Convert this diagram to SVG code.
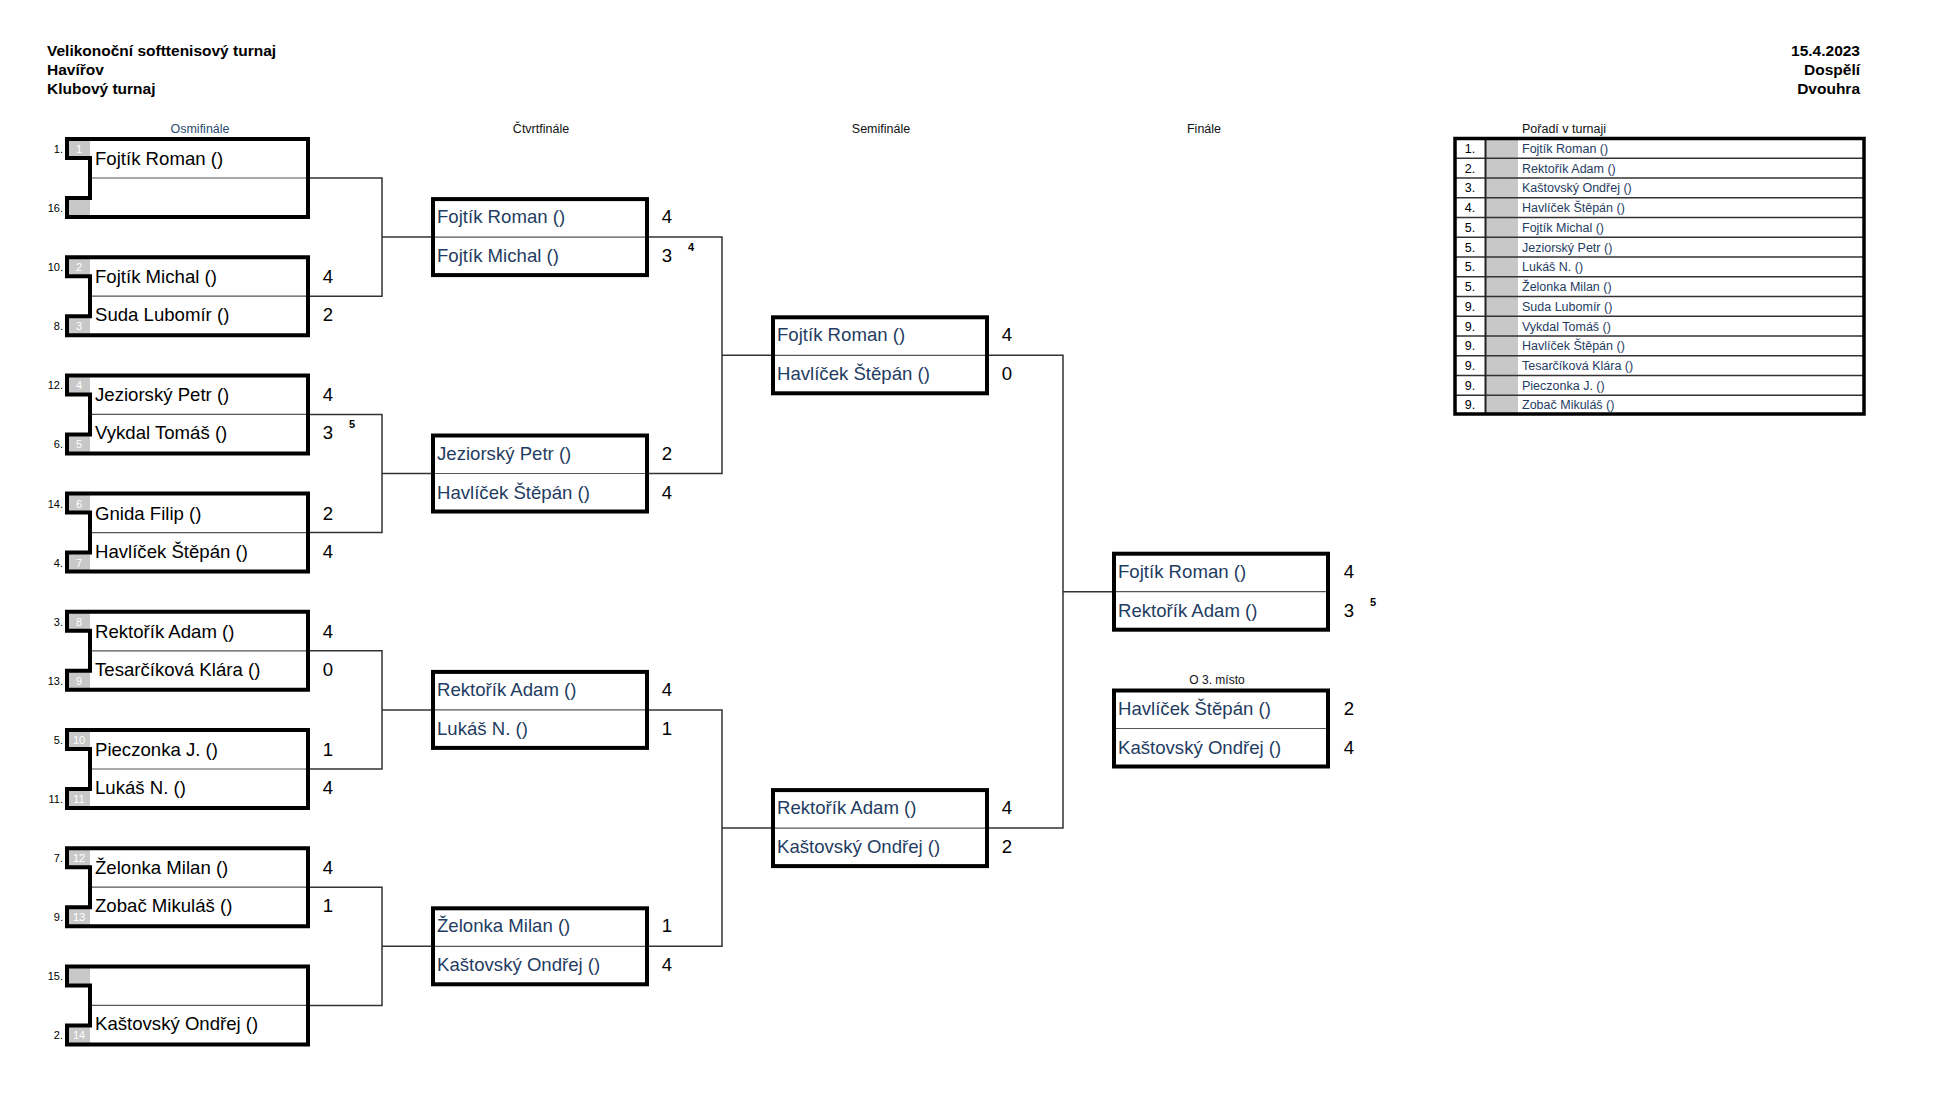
<svg xmlns="http://www.w3.org/2000/svg" xmlns:xlink="http://www.w3.org/1999/xlink" width="1944" height="1094" viewBox="0 0 1944 1094">
<style>
text{font-family:"Liberation Sans",Arial,sans-serif}
.hdr{font-size:15.5px;font-weight:bold;fill:#000}
.rnd{font-size:12.5px;fill:#111;text-anchor:middle}
.rndb{font-size:12.5px;fill:#2c4d70;text-anchor:middle}
.nm{font-size:18.6px;fill:#000}
.nmb{font-size:18.6px;fill:#1f3c62}
.sc{font-size:18.6px;fill:#000;text-anchor:middle}
.sup{font-size:11px;font-weight:bold;fill:#000;text-anchor:middle}
.seed{font-size:11px;fill:#000;text-anchor:end}
.sd{font-size:11px;fill:#fff;text-anchor:middle}
.tr{font-size:12.5px;fill:#000;text-anchor:middle}
.tn{font-size:12.5px;fill:#1f3c62}
.th{font-size:12.5px;fill:#111}
.thick{fill:none;stroke:#000;stroke-width:4}
.mid{stroke:#555;stroke-width:1.2;fill:none}
.conn{fill:none;stroke:#333;stroke-width:1.5}
.gray{fill:#c8c8c8}
.row{stroke:#333;stroke-width:1.5}
</style>
<defs>
<g id="r16frame">
<rect x="0" y="0" width="245" height="82" fill="#fff"/>
<rect class="gray" x="2" y="2" width="23" height="19"/>
<rect class="gray" x="2" y="61" width="23" height="19"/>
<path class="mid" d="M27,41 H241"/>
<path class="thick" d="M2,2 H243 V80 H2 V61 H25 V21 H2 Z"/>
</g>
<g id="mframe">
<rect x="2" y="2" width="214" height="76" fill="#fff"/>
<path class="mid" d="M4,40 H214"/>
<rect class="thick" x="2" y="2" width="214" height="76"/>
</g>
</defs>
<rect width="1944" height="1094" fill="#fff"/>

<g id="header">
<text class="hdr" x="47" y="56">Velikonoční softtenisový turnaj</text>
<text class="hdr" x="47" y="75">Havířov</text>
<text class="hdr" x="47" y="94">Klubový turnaj</text>
<text class="hdr" x="1860" y="56" text-anchor="end">15.4.2023</text>
<text class="hdr" x="1860" y="75" text-anchor="end">Dospělí</text>
<text class="hdr" x="1860" y="94" text-anchor="end">Dvouhra</text>
<text class="rndb" x="200" y="133">Osmifinále</text>
<text class="rnd" x="541" y="133">Čtvrtfinále</text>
<text class="rnd" x="881" y="133">Semifinále</text>
<text class="rnd" x="1204" y="133">Finále</text>
<text class="rnd" x="1217" y="684" style="font-size:12px">O 3. místo</text>
</g>

<g id="connectors">
<path class="conn" d="M310,178 H382 V296.2 H310 M382,237.1 H432"/>
<path class="conn" d="M310,414.4 H382 V532.6 H310 M382,473.5 H432"/>
<path class="conn" d="M310,650.8 H382 V769 H310 M382,709.9 H432"/>
<path class="conn" d="M310,887.2 H382 V1005.4 H310 M382,946.3 H432"/>
<path class="conn" d="M649,237.1 H722 V473.5 H649 M722,355.3 H771"/>
<path class="conn" d="M649,709.9 H722 V946.3 H649 M722,828.1 H771"/>
<path class="conn" d="M989,355.3 H1063 V828.1 H989 M1063,591.7 H1112"/>
</g>

<g id="r16-1" transform="translate(65,137)">
<use href="#r16frame" xlink:href="#r16frame"/>
<text class="seed" x="-2" y="16">1.</text><text class="seed" x="-2" y="75">16.</text>
<text class="sd" x="14" y="16">1</text>
<text class="nm" x="30" y="28">Fojtík Roman ()</text>
</g>
<g id="r16-2" transform="translate(65,255.2)">
<use href="#r16frame" xlink:href="#r16frame"/>
<text class="seed" x="-2" y="16">10.</text><text class="seed" x="-2" y="75">8.</text>
<text class="sd" x="14" y="16">2</text><text class="sd" x="14" y="75">3</text>
<text class="nm" x="30" y="28">Fojtík Michal ()</text>
<text class="nm" x="30" y="66">Suda Lubomír ()</text>
<text class="sc" x="263" y="28">4</text><text class="sc" x="263" y="66">2</text>
</g>
<g id="r16-3" transform="translate(65,373.4)">
<use href="#r16frame" xlink:href="#r16frame"/>
<text class="seed" x="-2" y="16">12.</text><text class="seed" x="-2" y="75">6.</text>
<text class="sd" x="14" y="16">4</text><text class="sd" x="14" y="75">5</text>
<text class="nm" x="30" y="28">Jeziorský Petr ()</text>
<text class="nm" x="30" y="66">Vykdal Tomáš ()</text>
<text class="sc" x="263" y="28">4</text><text class="sc" x="263" y="66">3</text>
<text class="sup" x="287" y="55">5</text>
</g>
<g id="r16-4" transform="translate(65,491.6)">
<use href="#r16frame" xlink:href="#r16frame"/>
<text class="seed" x="-2" y="16">14.</text><text class="seed" x="-2" y="75">4.</text>
<text class="sd" x="14" y="16">6</text><text class="sd" x="14" y="75">7</text>
<text class="nm" x="30" y="28">Gnida Filip ()</text>
<text class="nm" x="30" y="66">Havlíček Štěpán ()</text>
<text class="sc" x="263" y="28">2</text><text class="sc" x="263" y="66">4</text>
</g>
<g id="r16-5" transform="translate(65,609.8)">
<use href="#r16frame" xlink:href="#r16frame"/>
<text class="seed" x="-2" y="16">3.</text><text class="seed" x="-2" y="75">13.</text>
<text class="sd" x="14" y="16">8</text><text class="sd" x="14" y="75">9</text>
<text class="nm" x="30" y="28">Rektořík Adam ()</text>
<text class="nm" x="30" y="66">Tesarčíková Klára ()</text>
<text class="sc" x="263" y="28">4</text><text class="sc" x="263" y="66">0</text>
</g>
<g id="r16-6" transform="translate(65,728)">
<use href="#r16frame" xlink:href="#r16frame"/>
<text class="seed" x="-2" y="16">5.</text><text class="seed" x="-2" y="75">11.</text>
<text class="sd" x="14" y="16">10</text><text class="sd" x="14" y="75">11</text>
<text class="nm" x="30" y="28">Pieczonka J. ()</text>
<text class="nm" x="30" y="66">Lukáš N. ()</text>
<text class="sc" x="263" y="28">1</text><text class="sc" x="263" y="66">4</text>
</g>
<g id="r16-7" transform="translate(65,846.2)">
<use href="#r16frame" xlink:href="#r16frame"/>
<text class="seed" x="-2" y="16">7.</text><text class="seed" x="-2" y="75">9.</text>
<text class="sd" x="14" y="16">12</text><text class="sd" x="14" y="75">13</text>
<text class="nm" x="30" y="28">Želonka Milan ()</text>
<text class="nm" x="30" y="66">Zobač Mikuláš ()</text>
<text class="sc" x="263" y="28">4</text><text class="sc" x="263" y="66">1</text>
</g>
<g id="r16-8" transform="translate(65,964.4)">
<use href="#r16frame" xlink:href="#r16frame"/>
<text class="seed" x="-2" y="16">15.</text><text class="seed" x="-2" y="75">2.</text>
<text class="sd" x="14" y="75">14</text>
<text class="nm" x="30" y="66">Kaštovský Ondřej ()</text>
</g>

<g id="qf-1" transform="translate(431,197.1)">
<use href="#mframe" xlink:href="#mframe"/>
<text class="nmb" x="6" y="26">Fojtík Roman ()</text>
<text class="nmb" x="6" y="65">Fojtík Michal ()</text>
<text class="sc" x="236" y="26">4</text><text class="sc" x="236" y="65">3</text>
<text class="sup" x="260" y="54">4</text>
</g>
<g id="qf-2" transform="translate(431,433.5)">
<use href="#mframe" xlink:href="#mframe"/>
<text class="nmb" x="6" y="26">Jeziorský Petr ()</text>
<text class="nmb" x="6" y="65">Havlíček Štěpán ()</text>
<text class="sc" x="236" y="26">2</text><text class="sc" x="236" y="65">4</text>
</g>
<g id="qf-3" transform="translate(431,669.9)">
<use href="#mframe" xlink:href="#mframe"/>
<text class="nmb" x="6" y="26">Rektořík Adam ()</text>
<text class="nmb" x="6" y="65">Lukáš N. ()</text>
<text class="sc" x="236" y="26">4</text><text class="sc" x="236" y="65">1</text>
</g>
<g id="qf-4" transform="translate(431,906.3)">
<use href="#mframe" xlink:href="#mframe"/>
<text class="nmb" x="6" y="26">Želonka Milan ()</text>
<text class="nmb" x="6" y="65">Kaštovský Ondřej ()</text>
<text class="sc" x="236" y="26">1</text><text class="sc" x="236" y="65">4</text>
</g>

<g id="sf-1" transform="translate(771,315.3)">
<use href="#mframe" xlink:href="#mframe"/>
<text class="nmb" x="6" y="26">Fojtík Roman ()</text>
<text class="nmb" x="6" y="65">Havlíček Štěpán ()</text>
<text class="sc" x="236" y="26">4</text><text class="sc" x="236" y="65">0</text>
</g>
<g id="sf-2" transform="translate(771,788.1)">
<use href="#mframe" xlink:href="#mframe"/>
<text class="nmb" x="6" y="26">Rektořík Adam ()</text>
<text class="nmb" x="6" y="65">Kaštovský Ondřej ()</text>
<text class="sc" x="236" y="26">4</text><text class="sc" x="236" y="65">2</text>
</g>

<g id="final" transform="translate(1112,551.7)">
<use href="#mframe" xlink:href="#mframe"/>
<text class="nmb" x="6" y="26">Fojtík Roman ()</text>
<text class="nmb" x="6" y="65">Rektořík Adam ()</text>
<text class="sc" x="237" y="26">4</text><text class="sc" x="237" y="65">3</text>
<text class="sup" x="261" y="54">5</text>
</g>
<g id="third" transform="translate(1112,688.5)">
<use href="#mframe" xlink:href="#mframe"/>
<text class="nmb" x="6" y="26">Havlíček Štěpán ()</text>
<text class="nmb" x="6" y="65">Kaštovský Ondřej ()</text>
<text class="sc" x="237" y="26">2</text><text class="sc" x="237" y="65">4</text>
</g>

<g id="ranking">
<text class="th" x="1522" y="133">Pořadí v turnaji</text>
<rect x="1455" y="138.5" width="409" height="275.5" fill="#fff"/>
<rect class="gray" x="1486" y="139" width="32" height="275"/>
<path class="row" d="M1455,158.25 H1864 M1455,178 H1864 M1455,197.75 H1864 M1455,217.5 H1864 M1455,237.25 H1864 M1455,257 H1864 M1455,276.75 H1864 M1455,296.5 H1864 M1455,316.25 H1864 M1455,336 H1864 M1455,355.75 H1864 M1455,375.5 H1864 M1455,395.25 H1864"/>
<path d="M1485.5,138.5 V414" stroke="#222" stroke-width="2"/>
<rect x="1455" y="138.5" width="409" height="275.5" fill="none" stroke="#000" stroke-width="3.5"/>
<g class="tr">
<text x="1470" y="152.5">1.</text>
<text x="1470" y="172.5">2.</text>
<text x="1470" y="192">3.</text>
<text x="1470" y="212">4.</text>
<text x="1470" y="231.5">5.</text>
<text x="1470" y="251.5">5.</text>
<text x="1470" y="271">5.</text>
<text x="1470" y="291">5.</text>
<text x="1470" y="310.5">9.</text>
<text x="1470" y="330.5">9.</text>
<text x="1470" y="350">9.</text>
<text x="1470" y="370">9.</text>
<text x="1470" y="389.5">9.</text>
<text x="1470" y="409">9.</text>
</g>
<g class="tn">
<text x="1522" y="152.5">Fojtík Roman ()</text>
<text x="1522" y="172.5">Rektořík Adam ()</text>
<text x="1522" y="192">Kaštovský Ondřej ()</text>
<text x="1522" y="212">Havlíček Štěpán ()</text>
<text x="1522" y="231.5">Fojtík Michal ()</text>
<text x="1522" y="251.5">Jeziorský Petr ()</text>
<text x="1522" y="271">Lukáš N. ()</text>
<text x="1522" y="291">Želonka Milan ()</text>
<text x="1522" y="310.5">Suda Lubomír ()</text>
<text x="1522" y="330.5">Vykdal Tomáš ()</text>
<text x="1522" y="350">Havlíček Štěpán ()</text>
<text x="1522" y="370">Tesarčíková Klára ()</text>
<text x="1522" y="389.5">Pieczonka J. ()</text>
<text x="1522" y="409">Zobač Mikuláš ()</text>
</g>
</g>
</svg>
